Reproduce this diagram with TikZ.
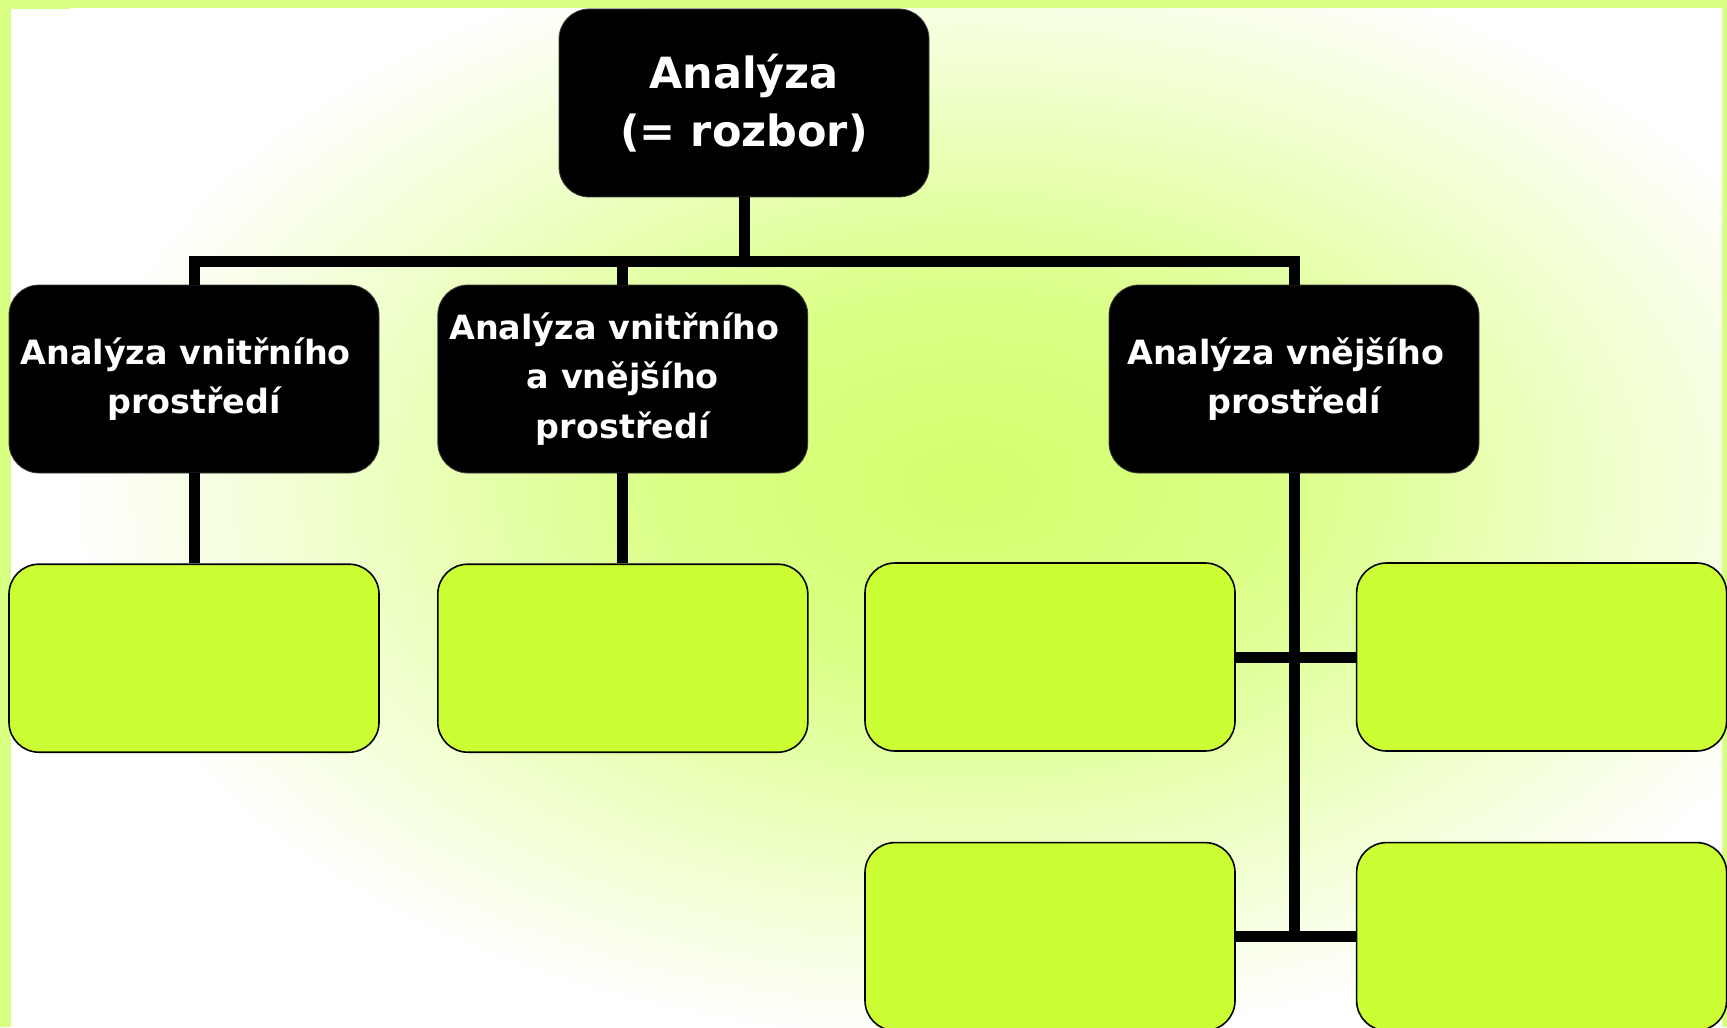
\documentclass[tikz,border=0pt]{standalone}
\usepackage{fontspec}
\setmainfont{DejaVu Sans}
\usepackage{xcolor}
\usepackage{tikz}
\usetikzlibrary{positioning}

\definecolor{framegreen}{RGB}{215,255,128}
\definecolor{glowgreen}{RGB}{212,255,110}
\definecolor{limefill}{RGB}{204,255,51}
\pgfdeclareradialshading{glow}{\pgfpoint{0bp}{0bp}}{color(0bp)=(glowgreen); color(8bp)=(glowgreen!85!white); color(25bp)=(white); color(50bp)=(white)}

\begin{document}
\begin{tikzpicture}[x=0.5pt, y=-0.5pt,
    % Black heading boxes (white bold text)
    headbox/.style={rectangle, draw=black!75, fill=black, rounded corners=15pt,
                    minimum width=185pt, minimum height=94pt, inner sep=0pt,
                    align=center, text=white,
                    font=\bfseries\fontsize{16.7}{24.75}\selectfont},
    % Top box, larger text
    topbox/.style={headbox, font=\bfseries\fontsize{21.5}{29}\selectfont},
    % Empty lime boxes
    emptybox/.style={rectangle, draw=black, line width=0.8pt, fill=limefill,
                     rounded corners=15pt, minimum width=185pt, minimum height=94pt},
    conn/.style={line width=5.5pt, black},
    node distance=45pt
]

\useasboundingbox (0,0) rectangle (1727,1027);

%-------- BACKGROUND --------
\fill[framegreen] (0,0) rectangle (1727,1027);
\fill[white] (11,9) rectangle (1722,1040);
\begin{scope}
  \clip (11,9) rectangle (1722,1040);
  \shade[shading=glow] (70,-75) rectangle (1870,1045);
\end{scope}

%-------- TOP --------
\node[topbox] (analyza) at (744,103) {Analýza\\(= rozbor)};

%-------- SECOND LEVEL --------
\node[headbox] (vnitrni) at (194,379)
    {Analýza vnitřního\hspace*{0.5em}\\prostředí};
\node[headbox, right=29pt of vnitrni] (oboji)
    {Analýza vnitřního\hspace*{0.5em}\\a vnějšího\hspace*{0.5em}\\prostředí};
\node[headbox] (vnejsi) at (1294,379)
    {Analýza vnějšího\hspace*{0.5em}\\prostředí};

%-------- EMPTY BOXES --------
\node[emptybox, below=of vnitrni] (vnitrniA) {};
\node[emptybox, below=of oboji] (obojiA) {};
\node[emptybox] (vnejsiA) at (1050,657) {};
\node[emptybox, right=60pt of vnejsiA] (vnejsiB) {};
\node[emptybox, below=of vnejsiA] (vnejsiC) {};
\node[emptybox, below=of vnejsiB] (vnejsiD) {};

%-------- CONNECTORS --------
\coordinate (bus) at (744,261);
\draw[conn] (analyza.south) -- (bus);
\draw[conn] (vnitrni.north) |- (bus) -| (vnejsi.north);
\draw[conn] (bus -| oboji) -- (oboji.north);
\draw[conn] (vnitrni.south) -- (vnitrniA.north);
\draw[conn] (oboji.south)   -- (obojiA.north);
\draw[conn] (vnejsi.south)  -- (vnejsi.south |- vnejsiC);
\draw[conn] (vnejsiA.east)  -- (vnejsiB.west);
\draw[conn] (vnejsiC.east)  -- (vnejsiD.west);

\end{tikzpicture}
\end{document}
